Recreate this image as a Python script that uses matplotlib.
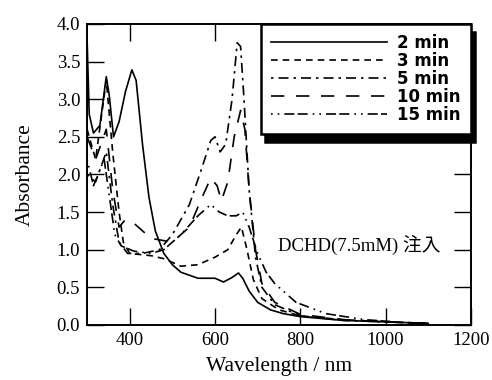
import matplotlib.pyplot as plt

# wavelength (nm) / absorbance
wl_2 = [300, 305, 315, 330, 345, 352, 362, 375, 390, 405, 415, 430, 445, 460, 480, 500, 520, 560,
        600, 620, 640, 655, 665, 680, 700, 730, 760, 800, 900, 1000, 1100]
ab_2 = [3.8, 2.8, 2.55, 2.65, 3.3, 3.05, 2.5, 2.7, 3.1, 3.39, 3.25, 2.4, 1.7, 1.25, 0.95, 0.8, 0.7,
        0.62, 0.62, 0.57, 0.63, 0.69, 0.62, 0.45, 0.3, 0.2, 0.15, 0.11, 0.06, 0.04, 0.02]

wl_3 = [300, 320, 345, 360, 375, 385, 400, 450, 480, 520, 560, 600, 630, 650, 662, 675, 690, 710,
        750, 800, 900, 1000, 1100]
ab_3 = [2.6, 2.2, 3.25, 2.3, 1.5, 1.1, 0.95, 0.92, 0.88, 0.78, 0.8, 0.9, 1.0, 1.2, 1.3, 1.0, 0.6,
        0.35, 0.2, 0.12, 0.07, 0.04, 0.02]

wl_5 = [300, 320, 345, 360, 375, 395, 430, 470, 500, 540, 570, 590, 600, 612, 625, 640, 652, 660,
        668, 680, 695, 710, 740, 800, 900, 1000, 1100]
ab_5 = [2.0, 1.9, 2.3, 1.6, 1.1, 0.95, 0.95, 1.0, 1.2, 1.6, 2.1, 2.45, 2.5, 2.3, 2.4, 3.0, 3.75,
        3.7, 3.0, 1.8, 0.9, 0.5, 0.27, 0.12, 0.06, 0.04, 0.02]

wl_10 = [300, 320, 345, 360, 375, 390, 410, 450, 500, 540, 570, 590, 605, 615, 630, 645, 660, 670,
         680, 695, 710, 740, 800, 900, 1000, 1100]
ab_10 = [2.5, 2.2, 2.6, 1.8, 1.3, 1.4, 1.35, 1.15, 1.1, 1.3, 1.7, 1.95, 1.85, 1.65, 1.9, 2.5, 2.85,
         2.6, 1.8, 1.0, 0.55, 0.3, 0.14, 0.07, 0.04, 0.02]

wl_15 = [300, 315, 340, 355, 365, 380, 410, 450, 480, 520, 560, 590, 610, 630, 650, 665, 680, 700,
         720, 740, 790, 860, 950, 1050, 1100]
ab_15 = [2.2, 1.85, 2.2, 1.6, 1.2, 1.05, 0.98, 0.95, 1.0, 1.2, 1.45, 1.6, 1.5, 1.45, 1.45, 1.5,
         1.3, 0.95, 0.7, 0.55, 0.3, 0.15, 0.07, 0.03, 0.02]

labels = ['2 min', '3 min', '5 min', '10 min', '15 min']

plt.rcParams['font.family'] = ['Liberation Serif', 'Noto Sans CJK JP']

fig = plt.figure(figsize=(4.92, 3.80), dpi=100)
ax = fig.add_axes([0.177, 0.145, 0.78, 0.792])

lw = 1.2
ax.plot(wl_2, ab_2, color='black', lw=lw, linestyle='-', label=labels[0])
ax.plot(wl_3, ab_3, color='black', lw=lw, linestyle=(0, (4, 3)), label=labels[1])
ax.plot(wl_5, ab_5, color='black', lw=lw, linestyle=(0, (1.5, 3, 6, 3)), label=labels[2])
ax.plot(wl_10, ab_10, color='black', lw=lw, linestyle=(0, (8, 7)), label=labels[3])
ax.plot(wl_15, ab_15, color='black', lw=lw, linestyle=(0, (1, 3, 1, 3, 6, 2, 6, 3)), label=labels[4])

ax.set_xlim(300, 1200)
ax.set_ylim(0, 4.0)
ax.set_xticks([400, 600, 800, 1000, 1200])
ax.set_yticks([0.0, 0.5, 1.0, 1.5, 2.0, 2.5, 3.0, 3.5, 4.0])
ax.set_yticklabels([f'{v:.1f}' for v in ax.get_yticks()])
ax.tick_params(direction='in', length=12, width=1, top=True, right=True, labelsize=13.5, pad=5)
for s in ax.spines.values():
    s.set_linewidth(1.4)

ax.set_xlabel('Wavelength / nm', fontsize=15.5, labelpad=6)
ax.set_ylabel('Absorbance', fontsize=15.5, labelpad=16)

ax.text(747, 1.06, 'DCHD(7.5mM) 注入', fontsize=13.5, va='center', ha='left')

leg = ax.legend(loc='upper right', bbox_to_anchor=(1.0, 1.0), frameon=True, fancybox=False,
                shadow={'ox': 3, 'oy': -6, 'color': 'black', 'alpha': 1},
                prop={'family': 'DejaVu Sans', 'weight': 'bold', 'size': 12},
                handlelength=7.0, labelspacing=0.0, borderpad=0.6, handletextpad=0.6,
                borderaxespad=0.0)
leg.get_frame().set_edgecolor('black')
leg.get_frame().set_linewidth(1.8)

fig.savefig('out.png', dpi=100)
